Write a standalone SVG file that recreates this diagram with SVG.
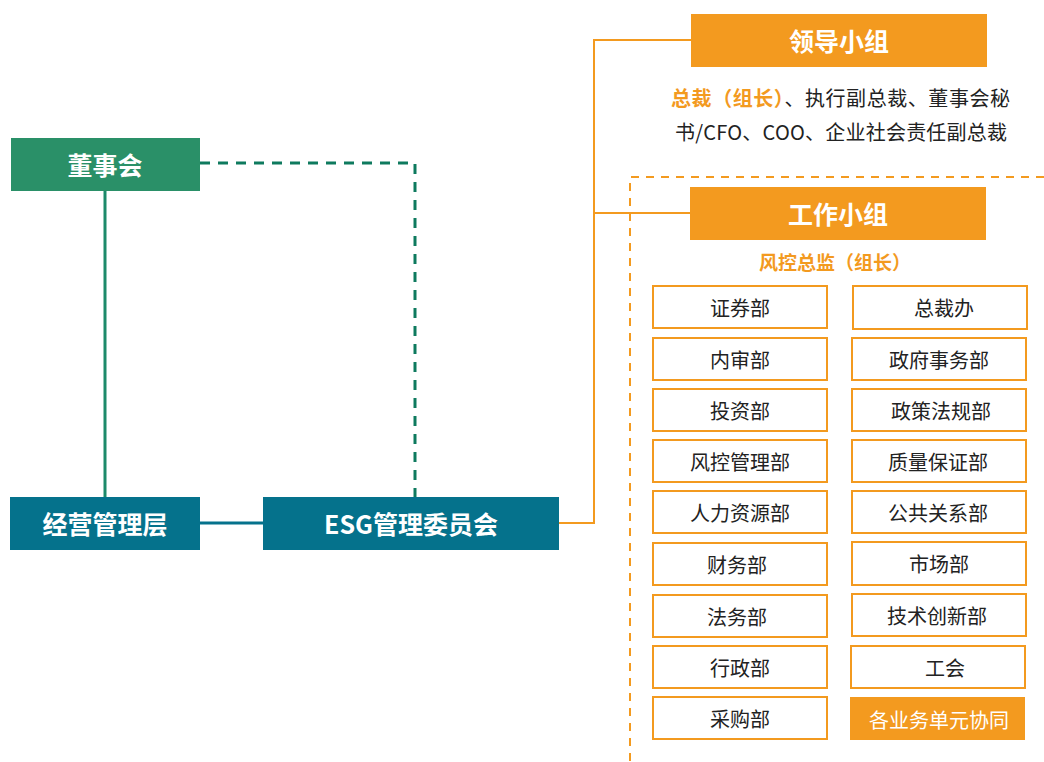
<svg xmlns="http://www.w3.org/2000/svg" width="1044" height="762" viewBox="0 0 1044 762">
<style>
text{font-family:"Noto Sans CJK SC","Microsoft YaHei",sans-serif;}
.t{fill:#fff;font-weight:bold;font-size:25px;text-anchor:middle;dominant-baseline:central;}
.b{fill:#fff;stroke:#f39a1f;stroke-width:2;}
.bt{fill:#222;font-size:20px;text-anchor:middle;dominant-baseline:central;}
.o{fill:#f39a1f;}
.p{fill:#222;font-size:20px;}
</style>
<rect width="1044" height="762" fill="#fff"/>
<g id="connectors" fill="none">
<path d="M200,163 H415 V497" stroke="#0e7a5e" stroke-width="3" stroke-dasharray="10,8"/>
<path d="M105,191 V497" stroke="#1c8a6a" stroke-width="3"/>
<path d="M200,523 H263" stroke="#05728c" stroke-width="3"/>
<path d="M559,523 H594 V40 H691 M594,213 H690" stroke="#f39a1f" stroke-width="2"/>
<path d="M1044,177 H630 V762" stroke="#f39a1f" stroke-width="2" stroke-dasharray="8,7"/>
</g>
<g id="board"><rect x="11" y="138" width="189" height="53" fill="#2a9068"/><text class="t" x="105" y="164">董事会</text></g>
<g id="mgmt"><rect x="10" y="497" width="190" height="53" fill="#05728c"/><text class="t" x="105" y="523">经营管理层</text></g>
<g id="esg"><rect x="263" y="497" width="296" height="53" fill="#05728c"/><text class="t" x="411" y="523">ESG管理委员会</text></g>
<g id="leader"><rect x="691" y="14" width="296" height="53" class="o"/><text class="t" x="839" y="40">领导小组</text>
<text x="671" y="97" dominant-baseline="central" font-size="20" textLength="339" lengthAdjust="spacing"><tspan fill="#f39a1f" font-weight="bold">总裁（组长）</tspan><tspan fill="#222">、执行副总裁、董事会秘</tspan></text>
<text class="p" x="675" y="131" dominant-baseline="central" textLength="332" lengthAdjust="spacing">书/CFO、COO、企业社会责任副总裁</text></g>
<g id="work"><rect x="690" y="187" width="296" height="53" class="o"/><text class="t" x="838" y="213">工作小组</text>
<text x="835" y="261" fill="#f39a1f" font-weight="bold" font-size="19" text-anchor="middle" dominant-baseline="central">风控总监（组长）</text></g>
<g id="d1"><rect class="b" x="653" y="286" width="174" height="42"/><text class="bt" x="740" y="307">证券部</text></g>
<g id="d2"><rect class="b" x="653" y="338" width="174" height="42"/><text class="bt" x="740" y="359">内审部</text></g>
<g id="d3"><rect class="b" x="653" y="389" width="174" height="42"/><text class="bt" x="740" y="410">投资部</text></g>
<g id="d4"><rect class="b" x="653" y="440" width="174" height="42"/><text class="bt" x="740" y="461">风控管理部</text></g>
<g id="d5"><rect class="b" x="653" y="491" width="174" height="42"/><text class="bt" x="740" y="512">人力资源部</text></g>
<g id="d6"><rect class="b" x="653" y="543" width="174" height="42"/><text class="bt" x="737" y="564">财务部</text></g>
<g id="d7"><rect class="b" x="653" y="595" width="174" height="42"/><text class="bt" x="737" y="616">法务部</text></g>
<g id="d8"><rect class="b" x="653" y="646" width="174" height="42"/><text class="bt" x="740" y="667">行政部</text></g>
<g id="d9"><rect class="b" x="653" y="697" width="174" height="42"/><text class="bt" x="740" y="718">采购部</text></g>
<g id="e1"><rect class="b" x="853" y="286" width="174" height="43"/><text class="bt" x="944" y="307">总裁办</text></g>
<g id="e2"><rect class="b" x="852" y="338" width="174" height="42"/><text class="bt" x="939" y="359">政府事务部</text></g>
<g id="e3"><rect class="b" x="852" y="389" width="174" height="42"/><text class="bt" x="941" y="410">政策法规部</text></g>
<g id="e4"><rect class="b" x="852" y="440" width="174" height="42"/><text class="bt" x="938" y="461">质量保证部</text></g>
<g id="e5"><rect class="b" x="852" y="491" width="174" height="42"/><text class="bt" x="938" y="512">公共关系部</text></g>
<g id="e6"><rect class="b" x="852" y="542" width="174" height="43"/><text class="bt" x="939" y="563">市场部</text></g>
<g id="e7"><rect class="b" x="852" y="594" width="174" height="42"/><text class="bt" x="937" y="615">技术创新部</text></g>
<g id="e8"><rect class="b" x="851" y="646" width="174" height="42"/><text class="bt" x="945" y="667">工会</text></g>
<g id="e9"><rect x="850" y="697" width="175" height="43" fill="#f39a1f"/><text class="bt" x="939" y="719" style="fill:#fff">各业务单元协同</text></g>
</svg>
